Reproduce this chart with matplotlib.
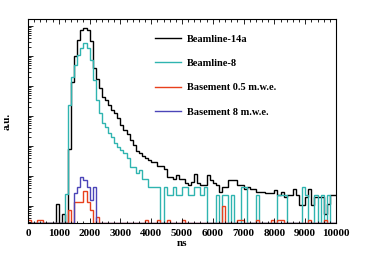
import numpy as np
import matplotlib
matplotlib.use('Agg')
import matplotlib.pyplot as plt
from matplotlib.ticker import MultipleLocator, LogLocator, NullFormatter

# time bins, 100 ns wide
bin_edges = np.arange(0, 10001, 100)

beamline_14a = [
    0, 0, 0, 0, 0, 0, 0, 0, 0, 1.17,
    0, 0.54, 0, 79, 13800, 95500, 339000, 741000, 871000, 741000,
    316000, 40000, 16600, 8500, 4300, 3400, 2300, 1600, 1260, 850,
    500, 350, 250, 160, 110, 70, 60, 45, 40, 33,
    29, 29, 22, 22, 17, 9.3, 9.3, 8.1, 10.5, 8.1,
    8.1, 5.6, 4.9, 6.3, 12, 5.6, 4.9, 4.9, 10.5, 7.2,
    5.6, 4.9, 2.95, 4.3, 4.3, 7.2, 7.2, 7.2, 4.9, 4.9,
    3.8, 4.3, 3.8, 3.8, 2.95, 2.95, 2.95, 2.6, 2.6, 2.6,
    3.3, 2.3, 2.95, 2.0, 2.3, 2.3, 3.8, 2.3, 1.05, 1.05,
    2.0, 3.8, 1.05, 2.0, 2.0, 2.0, 0.52, 1.2, 2.3, 2.3,
]

beamline_8 = [
    0, 0, 0, 0, 0, 0, 0, 0, 0, 0,
    0, 0, 2.5, 2344, 19950, 50100, 107000, 186000, 269000, 186000,
    74100, 15850, 3388, 1259, 589, 427, 269, 200, 126, 93,
    74, 59, 40, 20, 20, 12.6, 15.8, 8.1, 8.1, 4.3,
    4.3, 4.3, 4.3, 0, 4.3, 2.3, 2.3, 4.3, 2.3, 2.3,
    4.3, 4.3, 2.3, 2.3, 4.3, 4.3, 2.3, 4.3, 0, 0,
    0, 2.3, 0, 2.3, 2.3, 0, 2.3, 0, 0, 4.3,
    4.3, 0, 0, 0, 2.3, 0, 0, 0, 0, 0,
    0, 2.3, 2.3, 2.3, 0, 0, 0, 0, 0, 4.3,
    2.3, 0, 0, 2.3, 0, 2.3, 0, 2.3, 0, 0,
]

basement_05 = np.zeros(100)
basement_05[[0, 3, 4, 38, 42, 45, 50, 68, 69, 74, 79, 81, 82, 91, 96]] = 0.34
basement_05[[13, 15, 16, 17, 18, 19, 20, 22, 63]] = [0.74, 1.35, 1.35, 1.35, 3.2, 1.35, 0.74, 0.43, 1.0]

basement_8 = np.zeros(100)
basement_8[15:22] = [2.6, 4.3, 9.3, 7.4, 4.3, 1.6, 4.3]

labels = ['Beamline-14a', 'Beamline-8', 'Basement 0.5 m.w.e.', 'Basement 8 m.w.e.']
colors = ['#000000', '#2fb4b0', '#e8401c', '#4b45b8']

ymin, ymax = 10 ** -0.57, 10 ** 6.23

plt.rcParams['font.family'] = ['Liberation Serif', 'DejaVu Serif']
plt.rcParams['font.weight'] = 'bold'

fig = plt.figure(figsize=(3.74, 2.54), dpi=100)
ax = fig.add_axes([28 / 374, 31 / 254, 308 / 374, 204 / 254])

for vals, lab, col in zip([beamline_14a, beamline_8, basement_05, basement_8], labels, colors):
    v = np.asarray(vals, dtype=float)
    # empty bins are drawn on the lower frame, as ROOT does
    v = np.where(v > 0, v, ymin)
    ax.stairs(v, bin_edges, color=col, lw=1.0, label=lab, baseline=None)

ax.set_yscale('log')
ax.set_xlim(0, 10000)
ax.set_ylim(ymin, ymax)

ax.xaxis.set_major_locator(MultipleLocator(1000))
ax.xaxis.set_minor_locator(MultipleLocator(200))
ax.yaxis.set_major_locator(LogLocator(base=10, numticks=20))
ax.yaxis.set_minor_locator(LogLocator(base=10, subs=np.arange(2, 10), numticks=20))
ax.yaxis.set_major_formatter(NullFormatter())
ax.yaxis.set_minor_formatter(NullFormatter())

ax.tick_params(axis='x', which='both', direction='in', top=True, bottom=True, labelsize=8, pad=4)
ax.tick_params(axis='x', which='major', length=3.5, width=0.6)
ax.tick_params(axis='x', which='minor', length=1.8, width=0.6)
ax.tick_params(axis='y', which='both', direction='in', left=True, right=False, width=0.6)
ax.tick_params(axis='y', which='major', length=3.5)
ax.tick_params(axis='y', which='minor', length=1.8)
for lbl in ax.get_xticklabels():
    lbl.set_fontweight('bold')

for s in ax.spines.values():
    s.set_linewidth(0.8)

ax.set_xlabel('ns', fontsize=8, fontweight='bold', labelpad=1)
ax.set_ylabel('a.u.', fontsize=8, fontweight='bold', labelpad=8)

leg = ax.legend(loc='center left', bbox_to_anchor=(155 / 374, (254 - 75.5) / 254),
                bbox_transform=fig.transFigure, frameon=False, fontsize=7.5,
                handlelength=2.5, handletextpad=0.6, labelspacing=1.45,
                borderpad=0, borderaxespad=0)
for t in leg.get_texts():
    t.set_fontweight('bold')

fig.savefig('out.png', dpi=100)
